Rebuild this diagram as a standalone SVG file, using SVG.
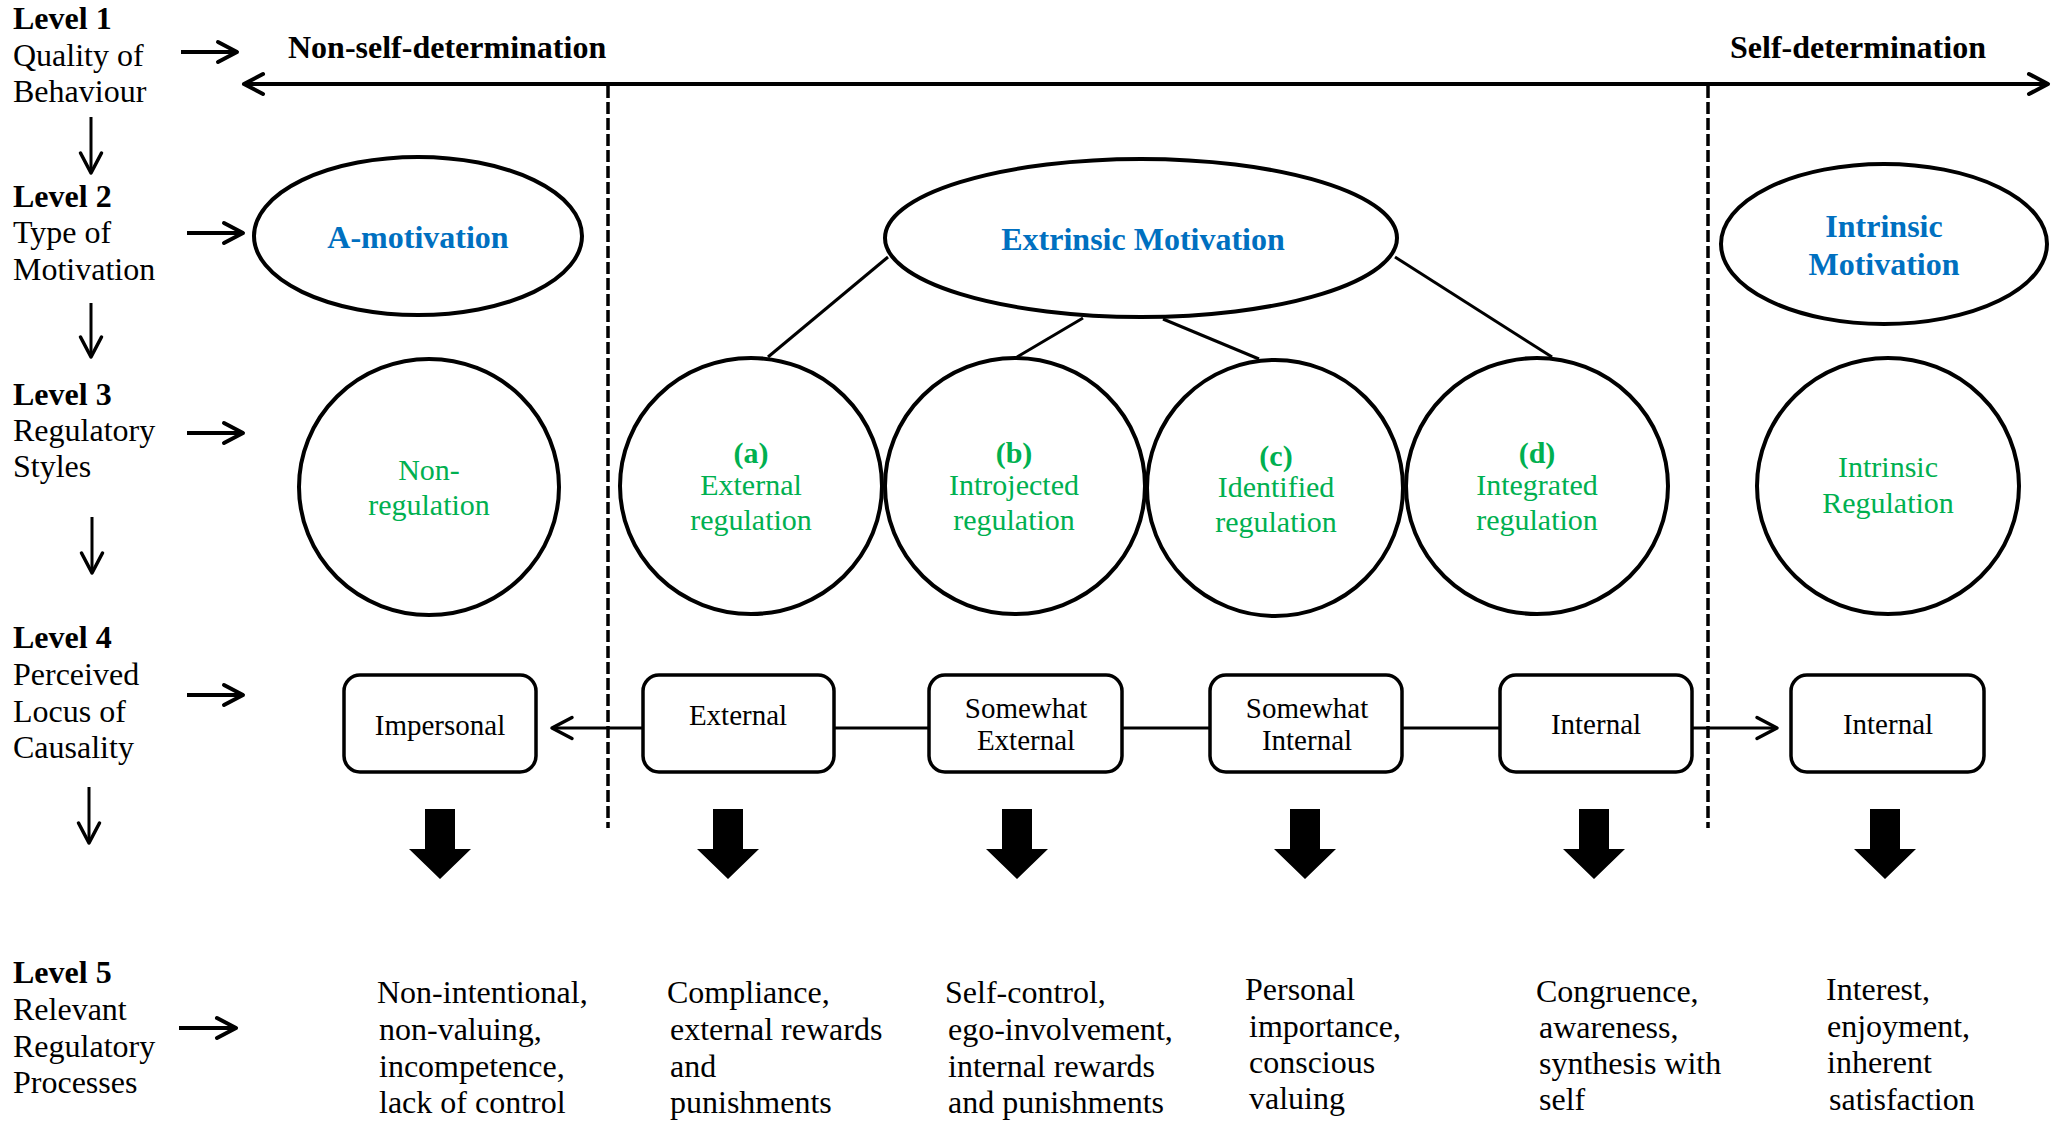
<svg xmlns="http://www.w3.org/2000/svg" xmlns:xlink="http://www.w3.org/1999/xlink" width="2060" height="1121" viewBox="0 0 2060 1121">
<style>
text{font-family:"Liberation Serif","Times New Roman",serif;fill:#000}
.lab{font-size:32px}
.b{font-weight:bold}
.blue{fill:#0070C0;font-size:32px;font-weight:bold}
.grn{fill:#00B050;font-size:30px}
.box{font-size:29px}
.p5{font-size:32px}
.ell{fill:#fff;stroke:#000;stroke-width:4}
.rr{fill:#fff;stroke:#000;stroke-width:3.5}
.ln{stroke:#000;stroke-width:3;fill:none}
.lnb{stroke:#000;stroke-width:4;fill:none}
.dash{stroke:#000;stroke-width:3.5;stroke-dasharray:12 4;fill:none}
</style>
<defs>
<marker id="chev" markerUnits="userSpaceOnUse" markerWidth="26" markerHeight="26" viewBox="0 0 26 26" refX="23" refY="13" orient="auto-start-reverse">
<path d="M4,3 L23,13 L4,23" fill="none" stroke="#000" stroke-width="4" stroke-linecap="round" stroke-linejoin="round"/>
</marker>
<marker id="chevs" markerUnits="userSpaceOnUse" markerWidth="26" markerHeight="26" viewBox="0 0 26 26" refX="23" refY="13" orient="auto-start-reverse">
<path d="M3,2.5 L23,13 L3,23.5" fill="none" stroke="#000" stroke-width="3.5" stroke-linecap="round" stroke-linejoin="round"/>
</marker>
<path id="blk" d="M-15,0 H15 V40 H31 L0,70 L-31,40 H-15 Z" fill="#000"/>
</defs>
<rect width="2060" height="1121" fill="#fff"/>

<g id="level-labels">
<text class="lab" x="13" y="29"><tspan class="b">Level 1</tspan><tspan x="13" y="66">Quality of</tspan><tspan x="13" y="102">Behaviour</tspan></text>
<text class="lab" x="13" y="207"><tspan class="b">Level 2</tspan><tspan x="13" y="243">Type of</tspan><tspan x="13" y="280">Motivation</tspan></text>
<text class="lab" x="13" y="405"><tspan class="b">Level 3</tspan><tspan x="13" y="441">Regulatory</tspan><tspan x="13" y="477">Styles</tspan></text>
<text class="lab" x="13" y="648"><tspan class="b">Level 4</tspan><tspan x="13" y="685">Perceived</tspan><tspan x="13" y="722">Locus of</tspan><tspan x="13" y="758">Causality</tspan></text>
<text class="lab" x="13" y="983"><tspan class="b">Level 5</tspan><tspan x="13" y="1020">Relevant</tspan><tspan x="13" y="1057">Regulatory</tspan><tspan x="13" y="1093">Processes</tspan></text>
</g>

<g id="axis-labels">
<text class="lab b" x="288" y="58">Non-self-determination</text>
<text class="lab b" x="1730" y="58">Self-determination</text>
</g>

<g id="connectors">
<line class="lnb" x1="181" y1="52" x2="237" y2="52" marker-end="url(#chev)"/>
<line class="lnb" x1="187" y1="233" x2="243" y2="233" marker-end="url(#chev)"/>
<line class="lnb" x1="187" y1="433" x2="243" y2="433" marker-end="url(#chev)"/>
<line class="lnb" x1="187" y1="695" x2="243" y2="695" marker-end="url(#chev)"/>
<line class="lnb" x1="179" y1="1028" x2="236" y2="1028" marker-end="url(#chev)"/>
<line class="ln" x1="91" y1="117" x2="91" y2="173" marker-end="url(#chevs)"/>
<line class="ln" x1="91" y1="303" x2="91" y2="357" marker-end="url(#chevs)"/>
<line class="ln" x1="92" y1="517" x2="92" y2="573" marker-end="url(#chevs)"/>
<line class="ln" x1="89" y1="787" x2="89" y2="843" marker-end="url(#chevs)"/>
<line class="lnb" x1="244" y1="84" x2="2048" y2="84" marker-start="url(#chev)" marker-end="url(#chev)"/>
<line class="dash" x1="608" y1="86" x2="608" y2="828"/>
<line class="dash" x1="1708" y1="86" x2="1708" y2="828"/>
<line class="ln" x1="888" y1="257" x2="768" y2="357"/>
<line class="ln" x1="1083" y1="318" x2="1017" y2="357"/>
<line class="ln" x1="1163" y1="319" x2="1259" y2="359"/>
<line class="ln" x1="1395" y1="257" x2="1552" y2="357"/>
<line class="ln" x1="642" y1="728" x2="552" y2="728" marker-end="url(#chevs)"/>
<line class="ln" x1="834" y1="728" x2="929" y2="728"/>
<line class="ln" x1="1122" y1="728" x2="1210" y2="728"/>
<line class="ln" x1="1402" y1="728" x2="1500" y2="728"/>
<line class="ln" x1="1692" y1="728" x2="1777" y2="728" marker-end="url(#chevs)"/>
<use href="#blk" x="440" y="809"/>
<use href="#blk" x="728" y="809"/>
<use href="#blk" x="1017" y="809"/>
<use href="#blk" x="1305" y="809"/>
<use href="#blk" x="1594" y="809"/>
<use href="#blk" x="1885" y="809"/>
</g>

<g id="a-motivation">
<ellipse class="ell" cx="418" cy="236" rx="164" ry="79"/>
<text class="blue" x="418" y="248" text-anchor="middle">A-motivation</text>
</g>
<g id="extrinsic-motivation">
<ellipse class="ell" cx="1141" cy="238" rx="256" ry="79"/>
<text class="blue" x="1143" y="250" text-anchor="middle">Extrinsic Motivation</text>
</g>
<g id="intrinsic-motivation">
<ellipse class="ell" cx="1884" cy="244" rx="163" ry="80"/>
<text class="blue" x="1884" y="237" text-anchor="middle">Intrinsic<tspan x="1884" y="275">Motivation</tspan></text>
</g>

<g id="non-regulation">
<ellipse class="ell" cx="429" cy="487" rx="130" ry="128"/>
<text class="grn" x="429" y="480" text-anchor="middle">Non-<tspan x="429" y="515">regulation</tspan></text>
</g>
<g id="external-regulation">
<ellipse class="ell" cx="751" cy="486" rx="131" ry="128"/>
<text class="grn" x="751" y="463" text-anchor="middle"><tspan class="b">(a)</tspan><tspan x="751" y="495">External</tspan><tspan x="751" y="530">regulation</tspan></text>
</g>
<g id="introjected-regulation">
<ellipse class="ell" cx="1015" cy="486" rx="130" ry="128"/>
<text class="grn" x="1014" y="463" text-anchor="middle"><tspan class="b">(b)</tspan><tspan x="1014" y="495">Introjected</tspan><tspan x="1014" y="530">regulation</tspan></text>
</g>
<g id="identified-regulation">
<ellipse class="ell" cx="1275" cy="488" rx="128" ry="128"/>
<text class="grn" x="1276" y="466" text-anchor="middle"><tspan class="b">(c)</tspan><tspan x="1276" y="497">Identified</tspan><tspan x="1276" y="532">regulation</tspan></text>
</g>
<g id="integrated-regulation">
<ellipse class="ell" cx="1537" cy="486" rx="131" ry="128"/>
<text class="grn" x="1537" y="463" text-anchor="middle"><tspan class="b">(d)</tspan><tspan x="1537" y="495">Integrated</tspan><tspan x="1537" y="530">regulation</tspan></text>
</g>
<g id="intrinsic-regulation">
<ellipse class="ell" cx="1888" cy="486" rx="131" ry="128"/>
<text class="grn" x="1888" y="477" text-anchor="middle">Intrinsic<tspan x="1888" y="513">Regulation</tspan></text>
</g>

<g id="impersonal">
<rect class="rr" x="344" y="675" width="192" height="97" rx="16"/>
<text class="box" x="440" y="735" text-anchor="middle">Impersonal</text>
</g>
<g id="external">
<rect class="rr" x="643" y="675" width="191" height="97" rx="16"/>
<text class="box" x="738" y="725" text-anchor="middle">External</text>
</g>
<g id="somewhat-external">
<rect class="rr" x="929" y="675" width="193" height="97" rx="16"/>
<text class="box" x="1026" y="718" text-anchor="middle">Somewhat<tspan x="1026" y="750">External</tspan></text>
</g>
<g id="somewhat-internal">
<rect class="rr" x="1210" y="675" width="192" height="97" rx="16"/>
<text class="box" x="1307" y="718" text-anchor="middle">Somewhat<tspan x="1307" y="750">Internal</tspan></text>
</g>
<g id="internal-1">
<rect class="rr" x="1500" y="675" width="192" height="97" rx="16"/>
<text class="box" x="1596" y="734" text-anchor="middle">Internal</text>
</g>
<g id="internal-2">
<rect class="rr" x="1791" y="675" width="193" height="97" rx="16"/>
<text class="box" x="1888" y="734" text-anchor="middle">Internal</text>
</g>

<g id="processes-1">
<text class="p5" x="377" y="1003">Non-intentional,<tspan x="379" y="1040">non-valuing,</tspan><tspan x="379" y="1077">incompetence,</tspan><tspan x="379" y="1113">lack of control</tspan></text>
</g>
<g id="processes-2">
<text class="p5" x="667" y="1003">Compliance,<tspan x="670" y="1040">external rewards</tspan><tspan x="670" y="1077">and</tspan><tspan x="670" y="1113">punishments</tspan></text>
</g>
<g id="processes-3">
<text class="p5" x="945" y="1003">Self-control,<tspan x="948" y="1040">ego-involvement,</tspan><tspan x="948" y="1077">internal rewards</tspan><tspan x="948" y="1113">and punishments</tspan></text>
</g>
<g id="processes-4">
<text class="p5" x="1245" y="1000">Personal<tspan x="1249" y="1037">importance,</tspan><tspan x="1249" y="1073">conscious</tspan><tspan x="1249" y="1109">valuing</tspan></text>
</g>
<g id="processes-5">
<text class="p5" x="1536" y="1002">Congruence,<tspan x="1539" y="1038">awareness,</tspan><tspan x="1539" y="1074">synthesis with</tspan><tspan x="1539" y="1110">self</tspan></text>
</g>
<g id="processes-6">
<text class="p5" x="1826" y="1000">Interest,<tspan x="1827" y="1037">enjoyment,</tspan><tspan x="1827" y="1073">inherent</tspan><tspan x="1829" y="1110">satisfaction</tspan></text>
</g>
</svg>
